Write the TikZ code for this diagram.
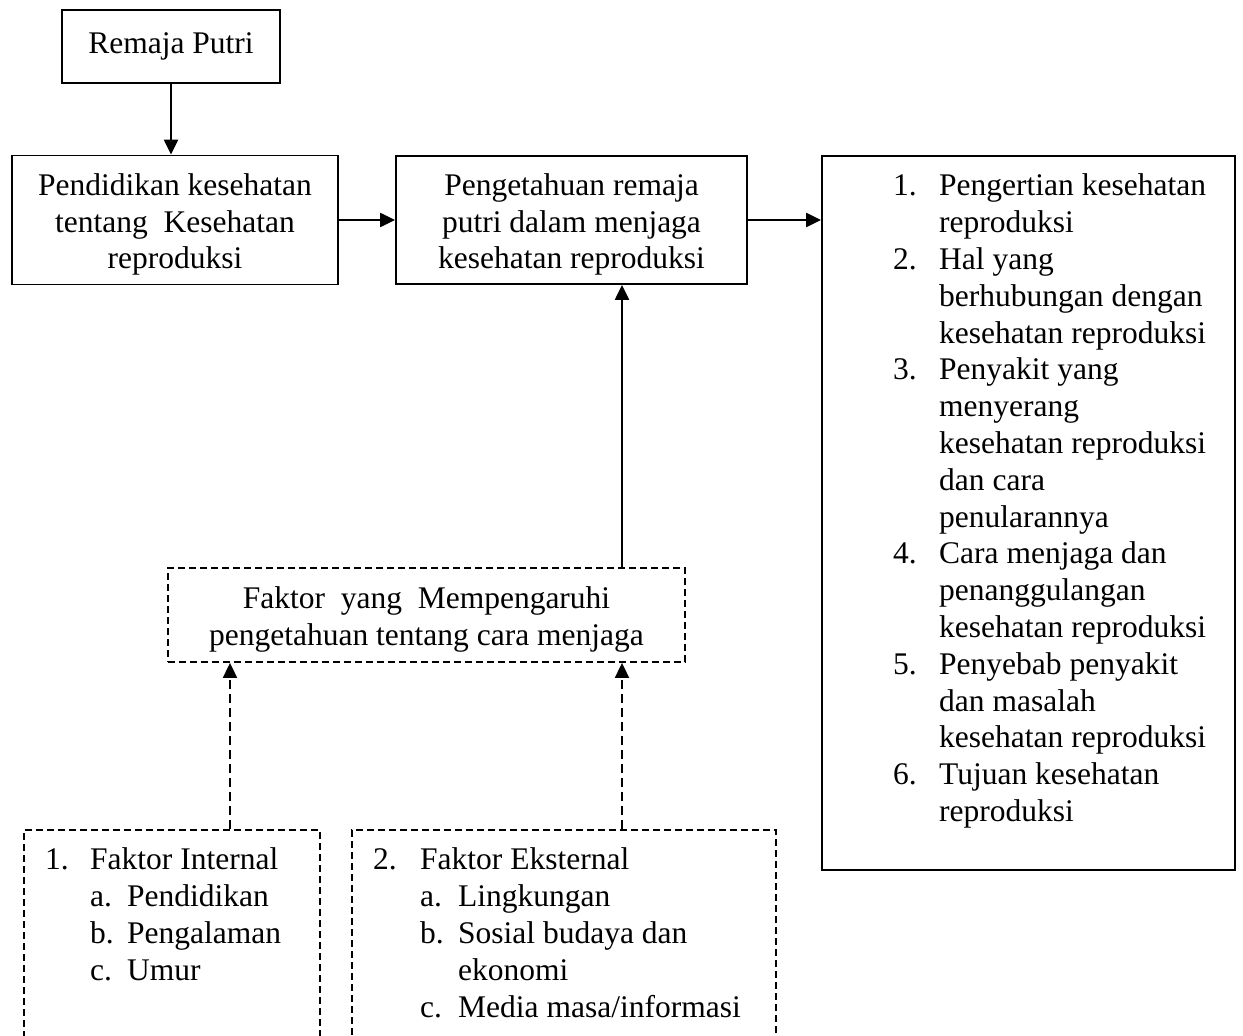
\documentclass[tikz,border=0pt]{standalone}
\usepackage{fontspec}
\setmainfont{Liberation Serif}
\usetikzlibrary{arrows.meta,positioning}

\newcommand{\bagfont}{\fontsize{31.5pt}{36.8pt}\selectfont}
\newcommand{\topstrut}{\rule{0pt}{31pt}}
\tikzset{
  box/.style={draw, line width=1.8pt, align=center, inner sep=0pt, font=\bagfont},
  dashbox/.style={box, dash pattern=on 7pt off 4pt},
  arrowline/.style={line width=2.2pt, -{Triangle[length=15pt,width=14pt]}},
  dasharrow/.style={arrowline, line width=1.8pt, dash pattern=on 9pt off 5pt},
  listtext/.style={inner sep=0pt, anchor=north west, font=\bagfont}
}

\begin{document}
\begin{tikzpicture}[x=1pt,y=-1pt]
    \useasboundingbox (0,0) rectangle (1243,1036);
    \clip (0,0) rectangle (1243,1036);

    % boxes
    \node[box, minimum width=218pt, minimum height=73pt] (remaja) at (171,46.5) {Remaja Putri};
    \node[box, minimum width=326pt, minimum height=129pt] (pendidikan) at (175,220) {\topstrut Pendidikan kesehatan\\tentang\ \ Kesehatan\\reproduksi};
    \node[box, minimum width=351pt, minimum height=128pt] (pengetahuan) at (571.5,220) {\topstrut Pengetahuan remaja\\putri dalam menjaga\\kesehatan reproduksi};
    \node[box, minimum width=413pt, minimum height=714pt] (tujuan) at (1028.5,513) {};
    \node[dashbox, minimum width=517pt, minimum height=94pt] (faktor) at (426.5,615) {\topstrut Faktor\ \ yang\ \ Mempengaruhi\\pengetahuan tentang cara menjaga};
    \node[dashbox, minimum width=296pt, minimum height=230pt] (internal) at (172,945) {};
    \node[dashbox, minimum width=424pt, minimum height=230pt] (eksternal) at (564,945) {};

    % lists
    \node[listtext] (tujuanlist) at (893,170) {%
      \begin{tabular}{@{}p{46pt}@{}l@{}}
        1. & Pengertian kesehatan\\
           & reproduksi\\
        2. & Hal yang\\
           & berhubungan dengan\\
           & kesehatan reproduksi\\
        3. & Penyakit yang\\
           & menyerang\\
           & kesehatan reproduksi\\
           & dan cara\\
           & penularannya\\
        4. & Cara menjaga dan\\
           & penanggulangan\\
           & kesehatan reproduksi\\
        5. & Penyebab penyakit\\
           & dan masalah\\
           & kesehatan reproduksi\\
        6. & Tujuan kesehatan\\
           & reproduksi
      \end{tabular}};
    \node[listtext] (internallist) at (45,844) {%
      \begin{tabular}{@{}p{45pt}@{}p{37pt}@{}l@{}}
        1. & \multicolumn{2}{@{}l@{}}{Faktor Internal}\\
           & a. & Pendidikan\\
           & b. & Pengalaman\\
           & c. & Umur
      \end{tabular}};
    \node[listtext] (eksternallist) at (373,844) {%
      \begin{tabular}{@{}p{47pt}@{}p{38pt}@{}l@{}}
        2. & \multicolumn{2}{@{}l@{}}{Faktor Eksternal}\\
           & a. & Lingkungan\\
           & b. & Sosial budaya dan\\
           &    & ekonomi\\
           & c. & Media masa/informasi
      \end{tabular}};

    % arrows
    \draw[arrowline] (remaja.south) -- (remaja.south |- pendidikan.north);
    \draw[arrowline] (pendidikan.east) -- (pengetahuan.west);
    \draw[arrowline] (pengetahuan.east) -- (pengetahuan.east -| tujuan.west);
    \draw[arrowline] ([xshift=195.5pt]faktor.north) -- ([xshift=195.5pt]faktor.north |- pengetahuan.south);
    \draw[dasharrow] ([xshift=58pt]internal.north) -- ([xshift=58pt]internal.north |- faktor.south);
    \draw[dasharrow] ([xshift=58pt]eksternal.north) -- ([xshift=58pt]eksternal.north |- faktor.south);
\end{tikzpicture}
\end{document}
